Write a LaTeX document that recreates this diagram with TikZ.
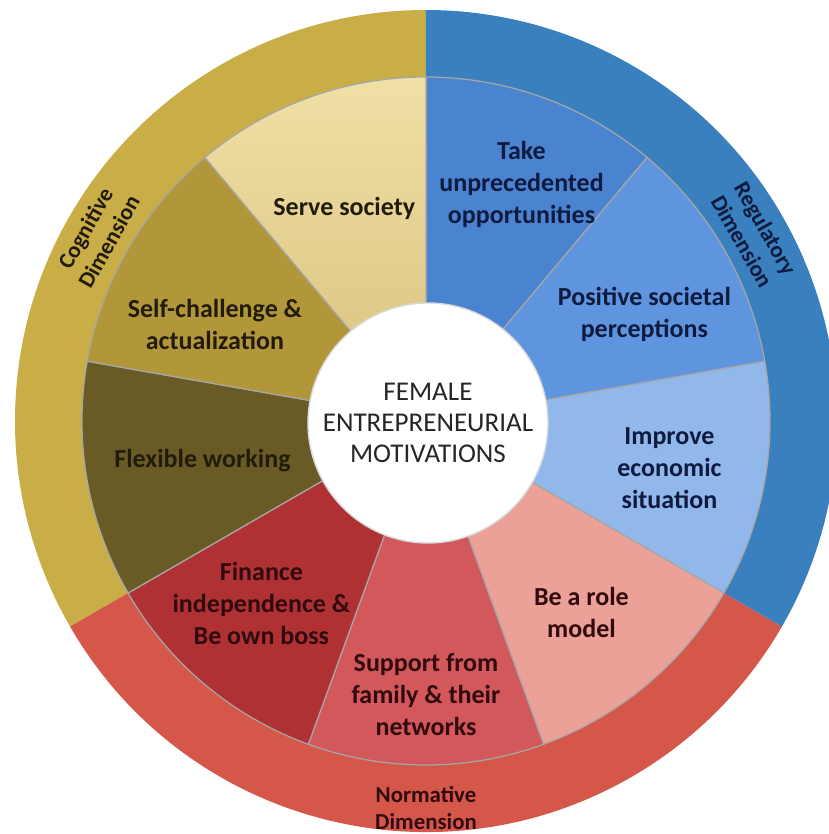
\documentclass[tikz,border=0pt]{standalone}
\usepackage{fontspec}
\setmainfont{Carlito}
\usepackage{tikz}
\definecolor{cogring}{RGB}{201,174,72}
\definecolor{regring}{RGB}{58,128,190}
\definecolor{norring}{RGB}{212,87,74}
\definecolor{servetop}{RGB}{240,224,166}
\definecolor{servebot}{RGB}{216,192,124}
\definecolor{selfcol}{RGB}{178,150,58}
\definecolor{flexcol}{RGB}{106,90,37}
\definecolor{takecol}{RGB}{74,132,208}
\definecolor{poscol}{RGB}{94,149,222}
\definecolor{improvecol}{RGB}{146,183,235}
\definecolor{rolecol}{RGB}{236,161,152}
\definecolor{supportcol}{RGB}{211,88,92}
\definecolor{financecol}{RGB}{175,49,51}
\definecolor{cogtext}{RGB}{33,28,10}
\definecolor{regtext}{RGB}{14,26,62}
\definecolor{nortext}{RGB}{48,10,14}
\tikzset{motlabel/.style={font=\fontsize{14.8}{18.2}\selectfont\bfseries, align=center, inner sep=0pt}}
\tikzset{dimlabel/.style={font=\fontsize{13}{15.4}\selectfont\bfseries, align=center, inner sep=0pt}}
\tikzset{hub/.style={circle, fill=white, draw=black!15, line width=0.8pt, minimum size=4.8cm, align=center, font=\fontsize{15.4}{17.6}\selectfont, text=black!85}}
\tikzset{slice/.style={line width=0.7pt, draw=black!35}}

\begin{document}
\begin{tikzpicture}
    \useasboundingbox (-8.52,-8.26) rectangle (8.06,8.42);

    % outer ring, one sector per dimension
    \fill[cogring] (0,0) -- (90:8.22) arc[start angle=90, end angle=210, radius=8.22] -- cycle;
    \fill[norring] (0,0) -- (210:8.22) arc[start angle=210, end angle=330, radius=8.22] -- cycle;
    \fill[regring] (0,0) -- (-30:8.22) arc[start angle=-30, end angle=90, radius=8.22] -- cycle;

    % nine motivation slices, 40 degrees each
    \foreach \a/\c in {90/takecol, 50/poscol, 10/improvecol, -30/rolecol, -70/supportcol, -110/financecol, -150/flexcol, -190/selfcol}
        \filldraw[slice, fill=\c] (0,0) -- (\a:6.88) arc[start angle=\a, end angle=\a-40, radius=6.88] -- cycle;
    \shade[top color=servetop, bottom color=servebot] (0,0) -- (130:6.88) arc[start angle=130, end angle=90, radius=6.88] -- cycle;
    \draw[slice] (0,0) -- (130:6.88) arc[start angle=130, end angle=90, radius=6.88] -- cycle;

    \node[hub] (hub) at (0.04,-0.04) {FEMALE\\ENTREPRENEURIAL\\MOTIVATIONS};

    \node[motlabel, text=cogtext] (serve) at (111:4.56) {Serve society};
    \node[motlabel, text=cogtext] (selfch) at (155.5:4.64) {Self-challenge \&\\actualization};
    \node[motlabel, text=cogtext] (flex) at (190:4.54) {Flexible working};
    \node[motlabel, text=regtext] (take) at (68:5.1) {Take\\unprecedented\\opportunities};
    \node[motlabel, text=regtext] (posper) at (26:4.86) {Positive societal\\perceptions};
    \node[motlabel, text=regtext] (improve) at (-11:4.96) {Improve\\economic\\situation};
    \node[motlabel, text=nortext] (role) at (-51:4.94) {Be a role\\model};
    \node[motlabel, text=nortext] (support) at (-90:5.48) {Support from\\family \& their\\networks};
    \node[motlabel, text=nortext] (finance) at (228:4.92) {Finance\\independence \&\\Be own boss};

    \node[dimlabel, text=cogtext, rotate=60.5] (cogdim) at (150.5:7.56) {Cognitive\\Dimension};
    \node[dimlabel, text=regtext, rotate=-60.4] (regdim) at (29.6:7.54) {Regulatory\\Dimension};
    \node[dimlabel, text=nortext] (nordim) at (-90:7.74) {Normative\\Dimension};
\end{tikzpicture}
\end{document}
